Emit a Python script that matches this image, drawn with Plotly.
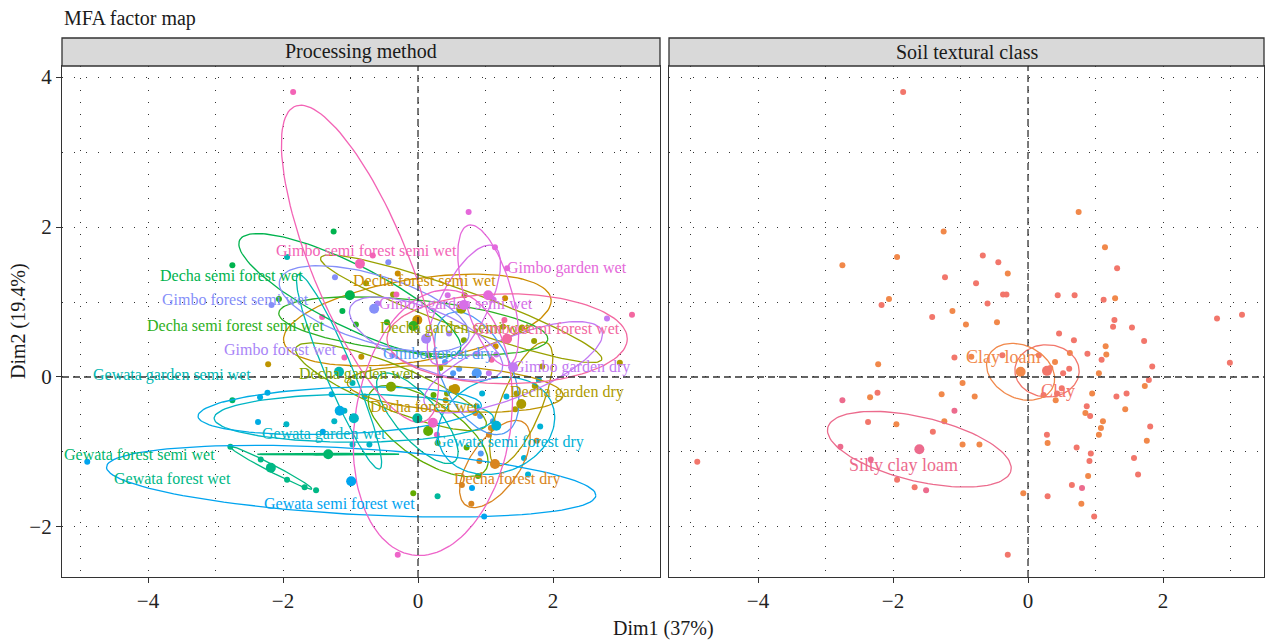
import math
import numpy as np
import plotly.graph_objects as go

# ---------------- data ----------------
ind_x = [-1.85, -1.25, -1.94, -2.75, -0.67, -0.44, -0.30, -1.23, -0.77, -0.37,
         -0.32, -2.06, -2.17, -0.60, -1.12, -1.42, -0.92, -0.46, 0.75, 1.14,
         1.32, 0.44, 0.69, 1.12, 1.29, 2.80, 3.17, 1.28, 1.26, 1.54,
         0.46, 0.68, 1.72, 1.15, 1.16, 0.62, 0.88, 1.09, 1.84, 2.99,
         0.16, -0.38, -0.84, 0.40, 0.33, 0.61, 0.52, 1.05, -0.97, 1.79,
         1.73, 0.50, 0.43, 0.23, 0.95, 1.46, 1.31, -0.79, 0.41, 0.87,
         0.85, 0.92, 1.44, 1.11, 1.08, 1.05, 1.81, 1.76, 0.28, 0.29,
         0.72, 0.93, 0.91, 1.57, 1.63, 0.89, 0.65, 0.80, 0.29, -0.07,
         0.79, 0.98, -0.30, -0.97, -0.72, -1.09, -2.22, -2.75, -2.34, -2.23,
         -1.28, -1.09, -1.24, -2.37, -1.95, -1.41, -2.78, -2.33, -1.94, -1.68,
         -1.51, -4.90]
ind_y = [3.80, 1.94, 1.60, 1.49, 1.62, 1.53, 1.38, 1.33, 1.25, 1.10,
         1.10, 1.04, 0.96, 0.98, 0.88, 0.80, 0.70, 0.73, 2.20, 1.73,
         1.45, 1.09, 1.09, 1.03, 1.05, 0.78, 0.83, 0.76, 0.67, 0.66,
         0.58, 0.49, 0.48, 0.41, 0.30, 0.32, 0.31, 0.23, 0.14, 0.19,
         0.29, 0.29, 0.27, 0.20, 0.12, 0.11, 0.05, 0.05, -0.08, -0.04,
         -0.12, -0.15, -0.22, -0.24, -0.22, -0.22, -0.26, -0.26, -0.31, -0.39,
         -0.48, -0.52, -0.43, -0.59, -0.68, -0.77, -0.66, -0.85, -0.77, -0.88,
         -0.94, -1.02, -1.12, -1.08, -1.30, -1.32, -1.44, -1.48, -1.59, -1.55,
         -1.69, -1.86, -2.37, -0.90, -0.90, 0.26, 0.17, -0.31, -0.27, -0.21,
         -0.23, -0.45, -0.59, -0.60, -0.63, -0.73, -0.93, -1.10, -1.37, -1.47,
         -1.51, -1.13]
ind_soil = ["C", "L", "L", "L", "C", "C", "L", "C", "C", "C",
            "C", "L", "C", "C", "L", "C", "L", "L", "L", "L",
            "C", "C", "C", "C", "L", "C", "C", "C", "C", "C",
            "C", "C", "C", "L", "L", "L", "C", "C", "C", "C",
            "C", "C", "L", "L", "C", "C", "C", "L", "L", "C",
            "L", "C", "C", "C", "L", "C", "C", "L", "L", "C",
            "L", "C", "L", "L", "L", "L", "C", "L", "C", "L",
            "C", "C", "C", "C", "C", "L", "C", "S", "C", "L",
            "L", "C", "C", "L", "L", "C", "L", "S", "L", "C",
            "L", "S", "L", "C", "L", "C", "S", "S", "C", "C",
            "S", "C"]
ind_method = ["BSS", "DSW", "WGS", "DSW", "BSS", "BFS", "DFS", "BFS", "DGS", "DGS",
              "BSS", "DSS", "BFS", "BFW", "DSW", "BSS", "DSS", "DSS", "BGW", "BGW",
              "BGW", "BGS", "DGS", "BGS", "DFS", "BGD", "BSW", "BSW", "DGS", "DGD",
              "BFW", "DGW", "DGS", "DFS", "BGD", "BFD", "BGD", "BSW", "DGD", "DGD",
              "DSS", "BFW", "DFW", "BFD", "DGW", "BFD", "BFD", "BGD", "WGS", "WSD",
              "DGD", "DFW", "DGW", "DSD", "WSD", "DGD", "WSD", "WGW", "DFW", "WSD",
              "DFD", "BFD", "DGD", "BFD", "DFD", "DFD", "WSD", "DFD", "BSD", "DSD",
              "DSD", "BFD", "DFD", "WSD", "WSD", "DSD", "DFD", "WSW", "WGD", "DSD",
              "DFD", "WSW", "BSD", "WGW", "WGW", "BSS", "DFW", "WFS", "WSS", "WSS",
              "WSS", "WGW", "WGW", "WSS", "WGW", "WSW", "WFW", "WFW", "WFW", "WFW",
              "WFW", "WSW"]

soil_names = {"C": "Clay", "L": "Clay loam", "S": "Silty clay loam"}
soil_order = ["C", "L", "S"]
soil_label_x = [0.44, -0.37, -1.85]
soil_label_y = [-0.19, 0.27, -1.17]

method_codes = ["DFD", "DFS", "DFW", "DGD", "DGS", "DGW", "DSD", "DSS", "DSW",
                "WFS", "WFW", "WGD", "WGS", "WGW", "WSD", "WSS", "WSW",
                "BFD", "BFS", "BFW", "BGD", "BGS", "BGW", "BSD", "BSS", "BSW"]
method_names = ["Decha forest dry", "Decha forest semi wet", "Decha forest wet",
                "Decha garden dry", "Decha garden semi wet", "Decha garden wet",
                "Decha semi forest dry", "Decha semi forest semi wet", "Decha semi forest wet",
                "Gewata forest semi wet", "Gewata forest wet", "Gewata garden dry",
                "Gewata garden semi wet", "Gewata garden wet", "Gewata semi forest dry",
                "Gewata semi forest semi wet", "Gewata semi forest wet",
                "Gimbo forest dry", "Gimbo forest semi wet", "Gimbo forest wet",
                "Gimbo garden dry", "Gimbo garden semi wet", "Gimbo garden wet",
                "Gimbo semi forest dry", "Gimbo semi forest semi wet", "Gimbo semi forest wet"]
method_mean_x = [1.14, -0.01, 0.55, 1.53, 0.64, -0.40, 0.15, -0.07, -1.01,
                 -1.33, -2.18, -0.01, -1.17, -0.95, 1.16, -1.16, -0.99,
                 0.87, -0.65, 0.12, 1.41, 0.68, 1.04, 0.22, -0.86, 1.32]
method_mean_y = [-1.16, 0.76, -0.16, -0.36, 0.91, -0.13, -0.72, 0.68, 1.09,
                 -1.03, -1.21, -0.55, 0.07, -0.55, -0.65, -0.45, -1.39,
                 0.05, 0.91, 0.51, 0.13, 0.96, 1.09, -0.61, 1.51, 0.51]
# confidence ellipse shape per method: semi-axes and rotation (deg)
ell_a = [0.70, 2.00, 1.60, 0.90, 2.19, 1.50, 1.00, 2.00, 1.79,
         1.05, 0.67, 0.80, 1.43, 2.07, 0.88, 2.10, 3.63,
         0.90, 1.45, 1.20, 1.40, 0.90, 0.98, 1.79, 2.31, 1.78]
ell_b = [0.35, 0.55, 0.30, 0.30, 0.25, 0.30, 0.40, 0.35, 0.42,
         0.01, 0.05, 0.30, 0.20, 0.32, 0.63, 0.31, 0.44,
         0.50, 0.45, 0.40, 0.40, 0.35, 0.35, 1.15, 0.70, 0.60]
ell_ang = [50, 8, -3, 65, -18, -20, -30, -5, -24,
           0, -25, -45, -65, 0, 15, 2, -3,
           -60, -15, -20, 20, 60, 108, 79, 115, 0]
label_x = [1.32, 0.10, 0.09, 2.21, 0.55, -0.90, None, -2.71, -2.77,
           -4.12, -3.63, None, -3.64, -1.39, 1.36, None, -1.16,
           0.30, -2.71, -2.03, 2.28, 0.56, 2.21, None, -0.76, 1.90]
label_y = [-1.36, 1.29, -0.39, -0.20, 0.65, 0.04, None, 0.69, 1.36,
           -1.04, -1.36, None, 0.03, -0.76, -0.87, None, -1.69,
           0.31, 1.03, 0.37, 0.13, 0.97, 1.45, None, 1.69, 0.65]

x_ticks = [-4, -2, 0, 2]
y_ticks = [-2, 0, 2, 4]

# ---------------- colours ----------------
def hcl_hex(h, c=100.0, l=65.0):
    xn, yn, zn = 95.047, 100.0, 108.883
    hr = math.radians(h)
    U, V = c * math.cos(hr), c * math.sin(hr)
    Y = yn * ((l + 16) / 116) ** 3
    den = xn + 15 * yn + 3 * zn
    un, vn = 4 * xn / den, 9 * yn / den
    u = U / (13 * l) + un
    v = V / (13 * l) + vn
    X = 9.0 * Y * u / (4 * v)
    Z = -X / 3 - 5 * Y + 3 * Y / v
    X, Y, Z = X / 100, Y / 100, Z / 100
    r = 3.240479 * X - 1.537150 * Y - 0.498535 * Z
    g = -0.969256 * X + 1.875992 * Y + 0.041556 * Z
    b = 0.055648 * X - 0.204043 * Y + 1.057311 * Z
    def gam(t):
        t = 1.055 * t ** (1 / 2.4) - 0.055 if t > 0.0031308 else 12.92 * t
        return int(round(min(max(t, 0), 1) * 255))
    return "#%02X%02X%02X" % (gam(r), gam(g), gam(b))

n_pal = len(method_codes) + 3
method_col = {c: hcl_hex(15 + (k + 2) * 360 / n_pal, c=90, l=63) for k, c in enumerate(method_codes)}
soil_col = {"C": "#F2766B", "L": "#F1884A", "S": "#EC6B8D"}

FONT = "Liberation Serif"
DARK = "#333333"

fig = go.Figure()

def ellipse_xy(cx, cy, a, b, ang):
    t = np.linspace(0, 2 * np.pi, 120)
    th = math.radians(ang)
    ex = cx + a * np.cos(t) * math.cos(th) - b * np.sin(t) * math.sin(th)
    ey = cy + a * np.cos(t) * math.sin(th) + b * np.sin(t) * math.cos(th)
    return ex, ey

X = np.array(ind_x)
Y = np.array(ind_y)

# ----- left panel: processing method -----
for c in method_codes:
    idx = [i for i, m in enumerate(ind_method) if m == c]
    if not idx:
        continue
    fig.add_trace(go.Scatter(x=X[idx], y=Y[idx], mode="markers", xaxis="x", yaxis="y",
                             marker=dict(size=6, color=method_col[c]), hoverinfo="skip",
                             showlegend=False))
for k, c in enumerate(method_codes):
    ex, ey = ellipse_xy(method_mean_x[k], method_mean_y[k], ell_a[k], ell_b[k], ell_ang[k])
    fig.add_trace(go.Scatter(x=ex, y=ey, mode="lines", xaxis="x", yaxis="y",
                             line=dict(color=method_col[c], width=1.3), hoverinfo="skip",
                             showlegend=False))
for k, c in enumerate(method_codes):
    fig.add_trace(go.Scatter(x=[method_mean_x[k]], y=[method_mean_y[k]], mode="markers",
                             xaxis="x", yaxis="y", marker=dict(size=10, color=method_col[c]),
                             hoverinfo="skip", showlegend=False))
for k, c in enumerate(method_codes):
    if label_x[k] is None:
        continue
    fig.add_annotation(x=label_x[k], y=label_y[k], xref="x", yref="y", text=method_names[k],
                       showarrow=False, font=dict(family=FONT, size=16, color=method_col[c]))

# ----- right panel: soil textural class -----
S = np.array(ind_soil)
for s in soil_order:
    m = S == s
    fig.add_trace(go.Scatter(x=X[m], y=Y[m], mode="markers", xaxis="x2", yaxis="y2",
                             marker=dict(size=6, color=soil_col[s]), hoverinfo="skip",
                             showlegend=False))
r95 = math.sqrt(5.991464547)
for s in soil_order:
    m = S == s
    pts = np.vstack([X[m], Y[m]])
    ctr = pts.mean(axis=1)
    cov = np.cov(pts) / pts.shape[1]
    vals, vecs = np.linalg.eigh(cov)
    t = np.linspace(0, 2 * np.pi, 120)
    circ = np.vstack([np.cos(t), np.sin(t)])
    e = ctr[:, None] + r95 * vecs @ np.diag(np.sqrt(vals)) @ circ
    fig.add_trace(go.Scatter(x=e[0], y=e[1], mode="lines", xaxis="x2", yaxis="y2",
                             line=dict(color=soil_col[s], width=1.3), hoverinfo="skip",
                             showlegend=False))
    fig.add_trace(go.Scatter(x=[ctr[0]], y=[ctr[1]], mode="markers", xaxis="x2", yaxis="y2",
                             marker=dict(size=10, color=soil_col[s]), hoverinfo="skip",
                             showlegend=False))
for k, s in enumerate(soil_order):
    fig.add_annotation(x=soil_label_x[k], y=soil_label_y[k], xref="x2", yref="y2",
                       text=soil_names[s], showarrow=False,
                       font=dict(family=FONT, size=18, color=soil_col[s]))

# ---------------- layout ----------------
W, H = 1266, 640
ml, mr, mt, mb = 62, 2, 66, 63
pw = W - ml - mr
ph = H - mt - mb
p1 = (0, (660 - ml) / pw)
p2 = ((669 - ml) / pw, 1)
yr = [-2.667, 4.147]
grid = dict(showgrid=True, gridcolor=DARK, gridwidth=1, griddash="1px,11px",
            zeroline=False, showline=True, mirror=True, linecolor=DARK, linewidth=1.3,
            ticks="outside", ticklen=5, tickcolor=DARK, tickwidth=1.2,
            tickfont=dict(family=FONT, size=21, color="#222222"),
            minor=dict(dtick=1, tick0=0, showgrid=True, gridcolor=DARK, gridwidth=1,
                       griddash="1px,11px", ticks=""))
ticktxt = lambda vals: ["\u2212" + str(-v) if v < 0 else str(v) for v in vals]
fig.update_layout(
    width=W, height=H, margin=dict(l=ml, r=mr, t=mt, b=mb, autoexpand=False),
    paper_bgcolor="white", plot_bgcolor="white", showlegend=False,
    xaxis=dict(domain=list(p1), range=[-5.274, 3.585], tickvals=x_ticks,
               ticktext=ticktxt(x_ticks), anchor="y", automargin=False, **grid),
    xaxis2=dict(domain=list(p2), range=[-5.319, 3.496], tickvals=x_ticks,
                ticktext=ticktxt(x_ticks), anchor="y2", automargin=False, **grid),
    yaxis=dict(domain=[0, 1], range=yr, tickvals=y_ticks, ticktext=ticktxt(y_ticks),
               anchor="x", automargin=False, **grid),
)
g2 = dict(grid)
g2["ticks"] = ""
fig.update_layout(yaxis2=dict(domain=[0, 1], range=yr, tickvals=y_ticks, showticklabels=False,
                              anchor="x2", automargin=False, **g2))

# zero reference lines
for xr, yrf in (("x", "y"), ("x2", "y2")):
    fig.add_shape(type="line", xref=xr, yref=yrf + " domain", x0=0, x1=0, y0=0, y1=1,
                  line=dict(color=DARK, width=1.3, dash="7px,4px"), layer="above")
    fig.add_shape(type="line", xref=xr + " domain", yref=yrf, x0=0, x1=1, y0=0, y1=0,
                  line=dict(color=DARK, width=1.3, dash="7px,4px"), layer="above")

# facet strips
strip_h = 28 / ph
for xr, title in (("x", "Processing method"), ("x2", "Soil textural class")):
    fig.add_shape(type="rect", xref=xr + " domain", yref="paper", x0=0, x1=1,
                  y0=1, y1=1 + strip_h, fillcolor="#D9D9D9", line=dict(color=DARK, width=1.3))
    fig.add_annotation(xref=xr + " domain", yref="paper", x=0.5, y=1 + strip_h / 2,
                       text=title, showarrow=False, yanchor="middle",
                       font=dict(family=FONT, size=20, color="#1a1a1a"))

fig.add_annotation(xref="paper", yref="paper", x=0, y=1 + (mt - 18) / ph, xanchor="left",
                   yanchor="middle", text="MFA factor map", showarrow=False,
                   font=dict(family=FONT, size=20, color="#1a1a1a"))
fig.add_annotation(xref="paper", yref="paper", x=(663 - ml) / pw, y=-(628 - (H - mb)) / ph,
                   yanchor="middle", text="Dim1 (37%)", showarrow=False,
                   font=dict(family=FONT, size=20, color="#1a1a1a"))
fig.add_annotation(xref="paper", yref="paper", x=(18 - ml) / pw, y=((H - mb) - 321) / ph,
                   textangle=-90, xanchor="center", yanchor="middle", text="Dim2 (19.4%)",
                   showarrow=False, font=dict(family=FONT, size=20, color="#1a1a1a"))

fig.write_html("out.html", config={"displayModeBar": False},
               post_script="document.body.style.margin='0px';document.body.style.overflow='hidden';")
